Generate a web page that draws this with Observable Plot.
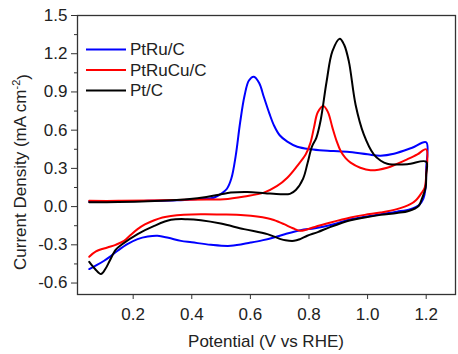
<!DOCTYPE html>
<html><head><meta charset="utf-8">
<script src="https://cdn.jsdelivr.net/npm/d3@7"></script>
<script src="https://cdn.jsdelivr.net/npm/@observablehq/plot@0.6"></script>
<style>body{margin:0;background:#fff;font-family:"Liberation Sans",Arial,sans-serif}</style>
</head><body><div id="chart"></div><script>
const seriesNames = ["PtRu/C", "PtRuCu/C", "Pt/C"];
const seriesColors = ["#0000ff", "#ff0000", "#000000"];

// PtRu/C : anodic scan then cathodic scan
const ptRuV = [0.05,0.15,0.25,0.35,0.42,0.475,0.50,0.52,0.535,0.55,0.565,0.58,0.595,0.612,0.63,0.646,0.665,0.68,0.70,0.726,0.76,0.806,0.85,0.93,1.0,1.044,1.09,1.15,1.2,
  1.2,1.198,1.19,1.175,1.146,1.10,1.044,0.99,0.942,0.874,0.82,0.771,0.72,0.68,0.64,0.601,0.533,0.465,0.40,0.363,0.32,0.283,0.25,0.215,0.18,0.147,0.12,0.101,0.075,0.05];
const ptRuJ = [0.04,0.042,0.045,0.05,0.06,0.07,0.10,0.14,0.22,0.40,0.66,0.87,0.99,1.02,0.97,0.86,0.73,0.64,0.56,0.51,0.47,0.45,0.44,0.43,0.41,0.40,0.415,0.46,0.505,
  0.30,0.15,0.06,0.01,-0.02,-0.04,-0.06,-0.08,-0.10,-0.145,-0.17,-0.185,-0.215,-0.243,-0.265,-0.282,-0.308,-0.30,-0.28,-0.269,-0.245,-0.229,-0.235,-0.255,-0.295,-0.347,-0.395,-0.425,-0.46,-0.49];

// PtRuCu/C
const ptRuCuV = [0.05,0.15,0.25,0.35,0.45,0.51,0.58,0.646,0.69,0.726,0.76,0.789,0.805,0.817,0.83,0.849,0.865,0.88,0.895,0.908,0.925,0.942,0.975,1.01,1.067,1.10,1.135,1.17,1.2,
  1.2,1.195,1.185,1.165,1.146,1.10,1.044,0.99,0.942,0.874,0.82,0.771,0.745,0.715,0.68,0.658,0.578,0.50,0.431,0.329,0.30,0.272,0.24,0.215,0.19,0.169,0.14,0.112,0.073,0.05];
const ptRuCuJ = [0.045,0.045,0.048,0.052,0.056,0.058,0.08,0.11,0.16,0.227,0.32,0.41,0.50,0.62,0.74,0.79,0.74,0.62,0.51,0.436,0.38,0.345,0.305,0.285,0.305,0.335,0.371,0.41,0.45,
  0.25,0.15,0.11,0.05,0.019,-0.02,-0.047,-0.065,-0.086,-0.125,-0.16,-0.19,-0.17,-0.138,-0.105,-0.091,-0.068,-0.062,-0.06,-0.073,-0.085,-0.107,-0.14,-0.177,-0.225,-0.269,-0.30,-0.321,-0.352,-0.394];

// Pt/C
const ptV = [0.05,0.15,0.25,0.385,0.45,0.50,0.533,0.59,0.65,0.703,0.735,0.755,0.78,0.795,0.81,0.825,0.84,0.86,0.88,0.905,0.92,0.936,0.959,0.987,1.021,1.045,1.067,1.135,1.2,
  1.2,1.198,1.185,1.174,1.14,1.10,1.044,0.99,0.942,0.874,0.83,0.794,0.77,0.749,0.72,0.703,0.658,0.578,0.499,0.431,0.385,0.329,0.272,0.215,0.16,0.14,0.12,0.105,0.09,0.07,0.05];
const ptJ = [0.034,0.036,0.042,0.058,0.075,0.097,0.11,0.115,0.105,0.097,0.10,0.13,0.22,0.34,0.47,0.54,0.68,0.98,1.22,1.318,1.27,1.14,0.80,0.567,0.41,0.36,0.337,0.332,0.352,
  0.25,0.15,0.06,0.005,-0.034,-0.05,-0.065,-0.085,-0.107,-0.159,-0.20,-0.229,-0.255,-0.269,-0.265,-0.255,-0.216,-0.177,-0.133,-0.107,-0.099,-0.104,-0.151,-0.216,-0.30,-0.34,-0.425,-0.49,-0.53,-0.49,-0.434];

const xTicks = [0.2, 0.4, 0.6, 0.8, 1.0, 1.2];
const yTicks = [-0.6, -0.3, 0.0, 0.3, 0.6, 0.9, 1.2, 1.5];
const yMinorTicks = [-0.45, -0.15, 0.15, 0.45, 0.75, 1.05, 1.35];
const xLabel = "Potential (V vs RHE)";
const yLabel = "Current Density (mA cm";
const yLabelSup = "-2";

const seriesV = [ptRuV, ptRuCuV, ptV];
const seriesJ = [ptRuJ, ptRuCuJ, ptJ];
const data = [];
seriesNames.forEach((name, k) => seriesV[k].forEach((v, i) => data.push({series: name, v, j: seriesJ[k][i]})));

const fmt = d => d.toFixed(1);
const axisColor = "#333";

const plot = Plot.plot({
  width: 458, height: 354,
  marginLeft: 77, marginRight: 3, marginTop: 15, marginBottom: 60,
  style: {fontFamily: "'Liberation Sans', Arial, sans-serif", fontSize: "17px", color: "#222", background: "#fff"},
  x: {domain: [0.01, 1.3]},
  y: {domain: [-0.69, 1.5]},
  color: {domain: seriesNames, range: seriesColors},
  marks: [
    Plot.line(data, {x: "v", y: "j", z: "series", stroke: "series", strokeWidth: 2, curve: "catmull-rom"}),
    Plot.frame({stroke: axisColor, strokeWidth: 1.3}),
    Plot.axisX({ticks: xTicks, tickSize: 5, tickPadding: 8, tickFormat: fmt, label: null, stroke: axisColor}),
    Plot.axisY({ticks: yTicks, tickSize: 6, tickPadding: 4, tickFormat: fmt, label: null, stroke: axisColor}),
    Plot.axisY({ticks: yMinorTicks, tickSize: 3, tickFormat: () => "", label: null, stroke: axisColor})
  ]
});

const svg = d3.select(plot);
// axis titles
svg.append("text").attr("x", 266).attr("y", 347).attr("text-anchor", "middle")
  .attr("fill", "#222").style("font-size", "17px").text(xLabel);
const yt = svg.append("text").attr("transform", "translate(26,172) rotate(-90)").attr("text-anchor", "middle")
  .attr("fill", "#222").style("font-size", "17px");
yt.append("tspan").text(yLabel);
yt.append("tspan").attr("dy", "-0.55em").style("font-size", "11px").text(yLabelSup);
yt.append("tspan").attr("dy", "0.55em").text(")");

// legend
const lg = svg.append("g").attr("text-anchor", "start");
seriesNames.forEach((name, k) => {
  const y = 49.5 + k * 20.5;
  lg.append("line").attr("x1", 86).attr("x2", 126).attr("y1", y).attr("y2", y)
    .attr("stroke", seriesColors[k]).attr("stroke-width", 2);
  lg.append("text").attr("x", 130).attr("y", y).attr("dy", "0.35em").attr("text-anchor", "start")
    .attr("fill", "#222").style("font-size", "17px").text(name);
});

document.getElementById("chart").appendChild(plot);
</script></body></html>
